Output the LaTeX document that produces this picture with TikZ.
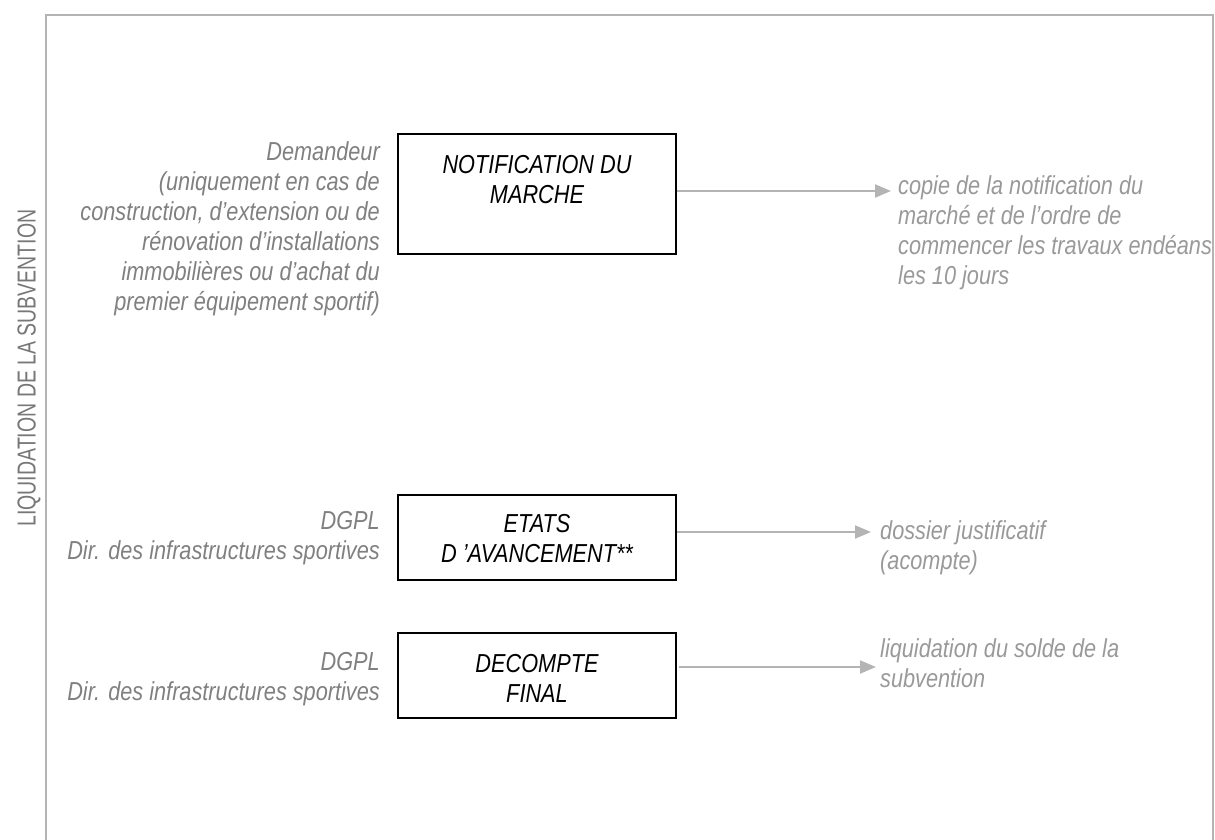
\documentclass[tikz,border=0pt]{standalone}
\usepackage{fontspec}
\setmainfont{Liberation Sans}[FakeStretch=0.835]
\newfontfamily\titlefont{Liberation Sans}[FakeStretch=0.75]
\usetikzlibrary{arrows.meta}
\definecolor{sidegrey}{HTML}{808080}
\definecolor{titlegrey}{HTML}{777777}
\definecolor{notegrey}{HTML}{999999}
\definecolor{rulegrey}{HTML}{B4B4B4}
\begin{document}
\begin{tikzpicture}[x=1pt,y=-1pt,
  every node/.style={inner sep=0pt, font=\fontsize{26}{30}\selectfont\itshape},
  stepbox/.style={draw=black, line width=2pt, minimum width=278pt},
  boxtext/.style={align=center, text=black},
  actor/.style={align=right, anchor=east, text=sidegrey},
  result/.style={align=left, anchor=west, text=notegrey},
  conn/.style={draw=rulegrey, line width=2pt, -{Triangle[length=16pt,width=13pt]}}]
\useasboundingbox (0,0) rectangle (1215,840);
% open frame around the stage
\draw[rulegrey, line width=2.5pt] (46,842) -- (46,15) -- (1213,15) -- (1213,842);
\node[rotate=90, text=titlegrey, font=\titlefont\fontsize{26}{30}\selectfont] (title) at (29,368) {LIQUIDATION DE LA SUBVENTION};

% step 1
\node[stepbox, minimum height=120pt] (b1) at (537,194) {};
\node[boxtext] (t1) at (537,180) {NOTIFICATION DU\\MARCHE};
\node[actor] (a1) at (380,229) {Demandeur\\(uniquement en cas de\\construction, d'extension ou de\\rénovation d'installations\\immobilières ou d'achat du\\premier équipement sportif)};
\coordinate (e1) at (891,191);
\draw[conn] (b1.east |- e1) -- (e1);
\node[result] (r1) at (898,233) {copie de la notification du\\marché et de l'ordre de\\commencer les travaux endéans\\les 10 jours};

% step 2
\node[stepbox, minimum height=85pt] (b2) at (537,537.5) {};
\node[boxtext] (t2) at (537,539) {ETATS\\D 'AVANCEMENT**};
\node[actor] (a2) at (380,538) {DGPL\\Dir. des infrastructures sportives};
\coordinate (e2) at (871,532);
\draw[conn] (b2.east |- e2) -- (e2);
\node[result] (r2) at (880,548) {dossier justificatif\\(acompte)};

% step 3
\node[stepbox, minimum height=85pt] (b3) at (537,675.5) {};
\node[boxtext] (t3) at (537,678) {DECOMPTE\\FINAL};
\node[actor] (a3) at (380,679) {DGPL\\Dir. des infrastructures sportives};
\coordinate (e3) at (876,667);
\draw[conn] ([xshift=2pt]b3.east |- e3) -- (e3);
\node[result] (r3) at (880,663) {liquidation du solde de la\\subvention};
\end{tikzpicture}
\end{document}
